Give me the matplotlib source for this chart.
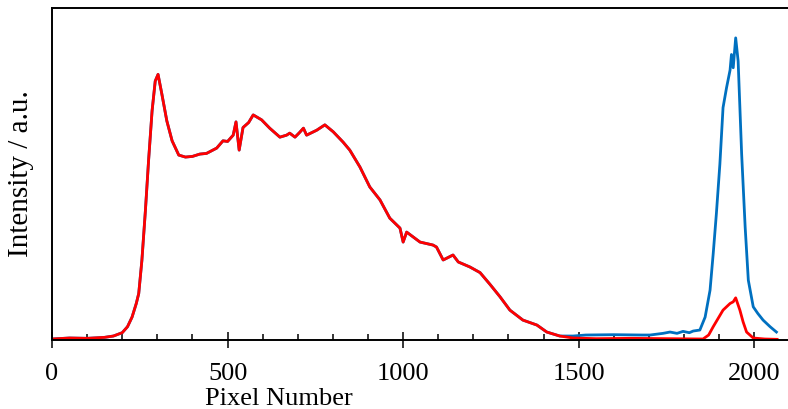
import matplotlib.pyplot as plt
from matplotlib.ticker import MultipleLocator

# pixel positions shared by both spectra (they overlap up to ~1450)
x_common = [0, 50, 100, 150, 175, 200, 215, 228, 240, 247, 256, 266, 275, 285,
            294, 302, 313, 327, 342, 361, 380, 400, 421, 440, 469, 487, 500,
            516, 524, 533, 544, 560, 573, 597, 620, 649, 668, 677, 692, 705,
            716, 725, 754, 777, 801, 829, 848, 877, 905, 934, 962, 991, 1000,
            1010, 1048, 1085, 1095, 1114, 1142, 1157, 1190, 1219, 1247, 1276,
            1304, 1341, 1381, 1409, 1446]
y_common = [0.003, 0.006, 0.005, 0.008, 0.012, 0.022, 0.04, 0.069, 0.11, 0.14,
            0.24, 0.39, 0.54, 0.69, 0.78, 0.80, 0.74, 0.66, 0.60, 0.557, 0.551,
            0.553, 0.56, 0.562, 0.578, 0.60, 0.598, 0.617, 0.657, 0.572, 0.64,
            0.655, 0.678, 0.663, 0.638, 0.611, 0.617, 0.623, 0.611, 0.625,
            0.638, 0.617, 0.632, 0.648, 0.627, 0.596, 0.572, 0.521, 0.461,
            0.422, 0.367, 0.337, 0.295, 0.325, 0.295, 0.286, 0.28, 0.241,
            0.256, 0.235, 0.22, 0.203, 0.168, 0.13, 0.09, 0.06, 0.045, 0.024,
            0.012]

# tails where the two spectra differ
x_red_tail = [1484, 1550, 1650, 1750, 1854, 1870, 1883, 1897, 1911, 1931,
              1940, 1947, 1959, 1968, 1978, 1997, 2030, 2065]
y_red_tail = [0.006, 0.004, 0.005, 0.004, 0.003, 0.015, 0.04, 0.065, 0.09,
              0.11, 0.115, 0.127, 0.09, 0.055, 0.024, 0.006, 0.003, 0.002]

x_blue_tail = [1484, 1520, 1600, 1680, 1703, 1740, 1760, 1780, 1797, 1815,
               1826, 1845, 1860, 1874, 1883, 1892, 1902, 1911, 1921, 1931,
               1935, 1940, 1947, 1954, 1964, 1974, 1983, 1997, 2010, 2025,
               2045, 2063]
y_blue_tail = [0.012, 0.015, 0.016, 0.015, 0.015, 0.02, 0.024, 0.02, 0.026,
               0.022, 0.027, 0.03, 0.069, 0.15, 0.26, 0.38, 0.53, 0.70, 0.76,
               0.813, 0.86, 0.82, 0.91, 0.84, 0.56, 0.34, 0.18, 0.10, 0.08,
               0.06, 0.04, 0.024]

x_blue = x_common + x_blue_tail
y_blue = y_common + y_blue_tail
x_red = x_common + x_red_tail
y_red = y_common + y_red_tail

plt.rcParams['font.family'] = ['Liberation Serif', 'DejaVu Serif']

fig = plt.figure(figsize=(7.88, 4.09), dpi=100)
ax = fig.add_axes([52 / 788, 69 / 409, 736 / 788, 332 / 409])

ax.plot(x_blue, y_blue, color='#0070C0', lw=2.0)
ax.plot(x_red, y_red, color='#FF0000', lw=2.0)

ax.set_xlim(0, 2096)
ax.set_ylim(0, 1.0)
ax.set_yticks([])
ax.xaxis.set_major_locator(MultipleLocator(500))
ax.xaxis.set_minor_locator(MultipleLocator(100))
ax.tick_params(axis='x', which='major', direction='inout', length=11,
               width=1.1, labelsize=19, pad=11)
ax.tick_params(axis='x', which='minor', direction='in', length=4.5, width=1.1)

ax.spines['right'].set_visible(False)
for s in ['left', 'top', 'bottom']:
    ax.spines[s].set_linewidth(1.4)

ax.set_xlabel('Pixel Number', fontsize=19)
ax.xaxis.set_label_coords(0.308, -0.145)
ax.set_ylabel('Intensity / a.u.', fontsize=21)
ax.yaxis.set_label_coords(-0.025, 0.5)

plt.savefig('out.png', dpi=100)
